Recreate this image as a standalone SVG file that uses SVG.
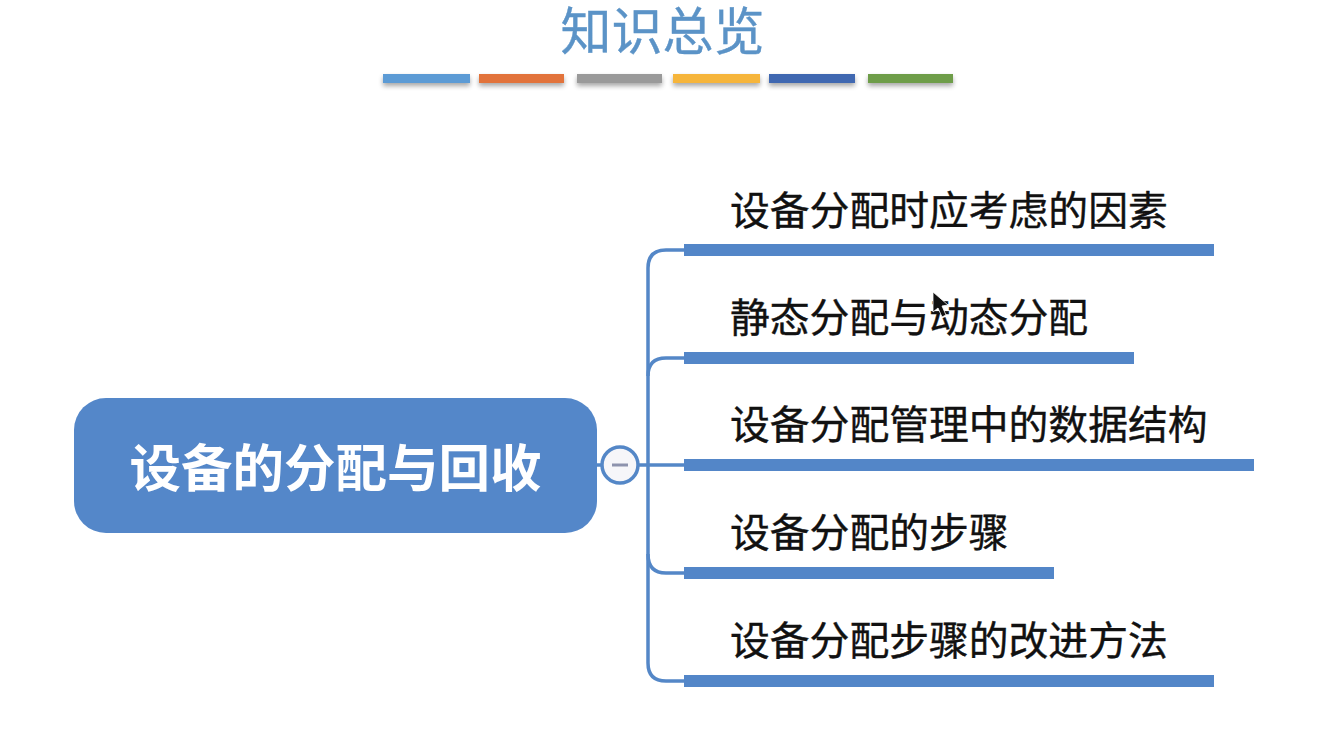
<svg xmlns="http://www.w3.org/2000/svg" width="1320" height="756" viewBox="0 0 1320 756">
  <style>
    .cjk { font-family: "Noto Sans CJK SC", "Liberation Sans", sans-serif; }
    .label { font-size: 39.8px; fill: #111; font-weight: 400; stroke: #111; stroke-width: 0.4; }
    .root-label { font-size: 51.5px; fill: #fff; font-weight: 700; }
    .title { font-family: "Liberation Sans", "Noto Sans CJK SC", sans-serif; font-size: 51px; fill: #5b93c7; font-weight: 400; stroke: #5b93c7; stroke-width: 0.4; }
    .wire { fill: none; stroke: #5487c7; stroke-width: 3.5; }
    .bar { fill: #5386c8; }
  </style>
  <defs>
    <filter id="soft" x="-5%" y="-60%" width="110%" height="260%">
      <feGaussianBlur in="SourceAlpha" stdDeviation="2.5"/>
      <feOffset dy="3"/>
      <feComponentTransfer><feFuncA type="linear" slope="0.35"/></feComponentTransfer>
      <feMerge><feMergeNode/><feMergeNode in="SourceGraphic"/></feMerge>
    </filter>
  </defs>
  <rect width="1320" height="756" fill="#fff"/>

  <g id="header">
    <text class="title" x="662.500" y="50" text-anchor="middle">知识总览</text>
    <g filter="url(#soft)">
      <rect x="383" y="74" width="87" height="9" fill="#5b9bd5"/>
      <rect x="479" y="74" width="85" height="9" fill="#e2733a"/>
      <rect x="577" y="74" width="85" height="9" fill="#9a9a9a"/>
      <rect x="673" y="74" width="87" height="9" fill="#f6b53a"/>
      <rect x="769" y="74" width="86" height="9" fill="#3f67b1"/>
      <rect x="868" y="74" width="85" height="9" fill="#6e9d48"/>
    </g>
  </g>

  <g id="connectors">
    <path class="wire" d="M597 465H684"/>
    <path class="wire" d="M684 250H666Q648 250 648 268V663Q648 681 666 681H684"/>
    <path class="wire" d="M684 358H666Q648 358 648 376"/>
    <path class="wire" d="M648 554Q648 573 666 573H684"/>
  </g>

  <g id="root">
    <rect x="74" y="398" width="523" height="135" rx="32" fill="#5487c9"/>
    <text class="cjk root-label" x="335.500" y="487" text-anchor="middle">设备的分配与回收</text>
  </g>

  <g id="collapse-toggle">
    <circle cx="620" cy="465" r="18" fill="#f6f6f9" stroke="#5487c7" stroke-width="3.5"/>
    <rect x="612" y="463.500" width="16" height="3" fill="#8d93ad"/>
  </g>

  <g id="topic-1">
    <rect class="bar" x="684" y="244" width="530" height="12"/>
    <text class="cjk label" x="730" y="225">设备分配时应考虑的因素</text>
  </g>
  <g id="topic-2">
    <rect class="bar" x="684" y="352" width="450" height="12"/>
    <text class="cjk label" x="730" y="332">静态分配与动态分配</text>
  </g>
  <g id="topic-3">
    <rect class="bar" x="684" y="459" width="570" height="12"/>
    <text class="cjk label" x="730" y="439">设备分配管理中的数据结构</text>
  </g>
  <g id="topic-4">
    <rect class="bar" x="684" y="567" width="370" height="12"/>
    <text class="cjk label" x="730" y="547">设备分配的步骤</text>
  </g>
  <g id="topic-5">
    <rect class="bar" x="684" y="675" width="530" height="12"/>
    <text class="cjk label" x="730" y="655">设备分配步骤的改进方法</text>
  </g>

  <!-- pointer arrow resting over the second topic -->
  <polygon id="pointer" points="933,292 933,312 938,308 942,317 946,315 942,306 948,305" fill="#111" stroke="#fff" stroke-width="0.8"/>
</svg>
